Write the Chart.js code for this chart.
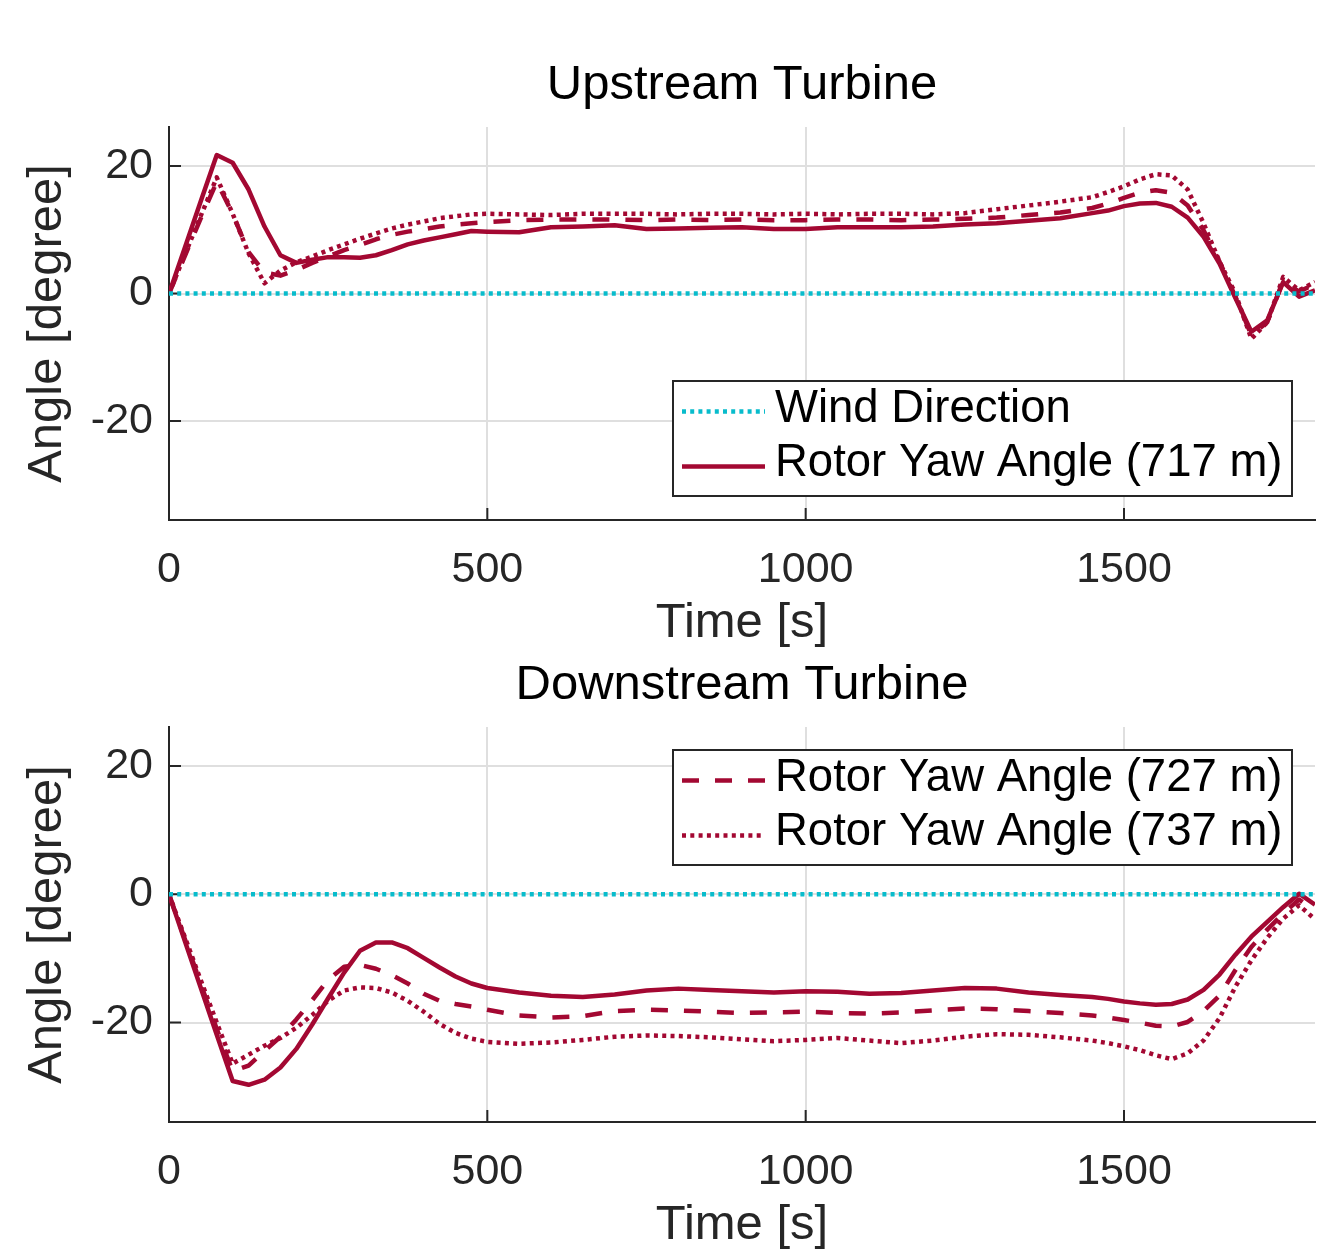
<!DOCTYPE html>
<html><head><meta charset="utf-8">
<script src="https://cdn.jsdelivr.net/npm/chart.js@4.4.1/dist/chart.umd.min.js"></script>
<style>
html,body{margin:0;padding:0;background:#fff;overflow:hidden;width:1318px;height:1249px;}
#c1{position:absolute;left:0;top:0;}
#c2{position:absolute;left:0;top:655px;}
</style></head><body>
<canvas id="c1" width="1318" height="655"></canvas>
<canvas id="c2" width="1318" height="594"></canvas>
<script>
// ---------------- data ----------------
const time = [0,25,50,75,100,125,150,175,200,225,250,275,300,325,350,375,400,425,450,475,500,
  550,600,650,700,750,800,850,900,950,1000,1050,1100,1150,1200,1250,1300,1350,1400,1450,
  1475,1500,1525,1550,1575,1600,1625,1650,1675,1700,1725,1750,1775,1800];

const windTime = [0, 1800];
const windDirection = [0, 0];

const upYaw717 = [0,7.2,14.5,21.7,20.5,16.3,10.5,6.0,4.8,5.3,5.7,5.7,5.6,6.0,6.8,7.7,8.3,8.8,9.3,9.8,9.7,
  9.6,10.4,10.5,10.7,10.1,10.2,10.3,10.4,10.1,10.1,10.4,10.4,10.4,10.5,10.8,11.0,11.4,11.8,12.6,
  13.0,13.7,14.1,14.2,13.6,11.9,8.9,4.7,-0.7,-6.0,-4.2,1.8,-0.5,0.5];
const upYaw727 = [0,5.9,11.8,17.5,12.5,6.5,3.3,2.8,3.7,4.8,5.8,6.8,7.6,8.5,9.2,9.7,10.1,10.5,10.8,11.0,11.2,
  11.5,11.6,11.6,11.6,11.5,11.6,11.5,11.6,11.5,11.5,11.6,11.6,11.5,11.6,11.7,11.9,12.3,12.7,13.4,
  14.1,15.0,15.8,16.2,15.8,13.8,9.9,5.0,-0.5,-6.5,-4.5,2.0,0.3,1.5];
const upYaw737 = [0,6.1,12.2,18.2,12.5,6.3,1.6,3.6,4.9,5.8,6.8,7.7,8.6,9.4,10.2,10.8,11.3,11.8,12.1,12.4,12.5,
  12.4,12.3,12.5,12.5,12.5,12.4,12.5,12.5,12.4,12.5,12.4,12.5,12.5,12.4,12.6,13.2,13.8,14.4,15.1,
  15.9,16.8,17.9,18.7,18.5,16.3,11.0,5.0,0.0,-7.1,-4.5,2.6,0.5,1.8];

const downYaw717 = [0,-7.3,-14.6,-21.9,-29.1,-29.7,-28.9,-27.0,-24.1,-20.3,-16.2,-12.2,-8.8,-7.5,-7.5,-8.4,-9.9,-11.4,-12.8,-13.9,-14.6,
  -15.3,-15.8,-16.0,-15.6,-15.0,-14.7,-14.9,-15.1,-15.3,-15.1,-15.2,-15.5,-15.4,-15.0,-14.6,-14.7,-15.3,-15.7,-16.0,
  -16.3,-16.7,-17.0,-17.2,-17.1,-16.4,-14.9,-12.5,-9.4,-6.6,-4.3,-2.0,0.1,-1.6];
const downYaw727 = [0,-7.0,-14.0,-21.0,-27.6,-26.7,-24.4,-22.2,-19.5,-16.5,-13.3,-11.3,-11.0,-11.6,-12.6,-13.9,-15.5,-16.6,-17.1,-17.5,-18.0,
  -18.9,-19.2,-19.0,-18.2,-18.0,-18.1,-18.3,-18.5,-18.4,-18.3,-18.5,-18.6,-18.4,-18.1,-17.8,-17.9,-18.2,-18.5,-18.9,
  -19.2,-19.6,-20.0,-20.5,-20.6,-19.9,-18.2,-15.8,-11.8,-8.2,-5.5,-3.0,-0.8,-2.6];
const downYaw737 = [0,-6.7,-13.4,-20.0,-26.4,-25.0,-23.6,-22.4,-20.8,-18.8,-16.6,-15.0,-14.5,-14.6,-15.3,-16.6,-18.3,-20.2,-21.6,-22.5,-23.0,
  -23.3,-23.1,-22.7,-22.2,-22.0,-22.1,-22.3,-22.6,-22.9,-22.7,-22.4,-22.8,-23.2,-22.8,-22.2,-21.8,-21.9,-22.3,-22.8,
  -23.2,-23.7,-24.3,-25.1,-25.7,-24.8,-22.8,-19.3,-14.4,-10.3,-6.8,-3.8,-1.7,-3.9];

const seriesLabels = ['Wind Direction','Rotor Yaw Angle (717 m)','Rotor Yaw Angle (727 m)','Rotor Yaw Angle (737 m)'];
const xTicks = [0, 500, 1000, 1500];
const yTicks = [-20, 0, 20];

// ---------------- style ----------------
const FONT = '"Liberation Sans", Arial, Helvetica, sans-serif';
const RED = 'rgb(163,8,50)';
const CYAN = 'rgb(8,188,204)';
const AXIS = '#262626';
const GRID = 'rgb(223,223,223)';

function pts(xs, ys){ return xs.map((x,i)=>({x:x, y:ys[i]})); }

function makeDatasets(a717, a727, a737){
  const common = {pointRadius:0, fill:false, tension:0, borderCapStyle:'butt', borderJoinStyle:'round'};
  return [
    Object.assign({label:seriesLabels[0], data:pts(windTime, windDirection), borderColor:CYAN, borderWidth:4.5, borderDash:[4,4.2], order:0}, common),
    Object.assign({label:seriesLabels[1], data:pts(time, a717), borderColor:RED, borderWidth:4.5, borderDash:[], order:1}, common),
    Object.assign({label:seriesLabels[2], data:pts(time, a727), borderColor:RED, borderWidth:4.5, borderDash:[17,16], order:2}, common),
    Object.assign({label:seriesLabels[3], data:pts(time, a737), borderColor:RED, borderWidth:4.5, borderDash:[4,4.3], order:3}, common)
  ];
}

const inTicks = {
  id:'inTicks',
  beforeDatasetsDraw(chart){
    const {ctx, chartArea:ca, scales:{x, y}} = chart;
    ctx.save();
    ctx.strokeStyle = AXIS; ctx.lineWidth = 2; ctx.beginPath();
    xTicks.forEach(v=>{ const p = x.getPixelForValue(v); ctx.moveTo(p, ca.bottom); ctx.lineTo(p, ca.bottom-12); });
    yTicks.forEach(v=>{ const p = y.getPixelForValue(v); ctx.moveTo(ca.left, p); ctx.lineTo(ca.left+12, p); });
    ctx.stroke(); ctx.restore();
  }
};

const boxLegend = {
  id:'boxLegend',
  afterDatasetsDraw(chart, args, o){
    if(!o || !o.items) return;
    const ctx = chart.ctx, ca = chart.chartArea;
    const left = ca.right - o.right - o.width;
    const top = o.anchor === 'bottom' ? ca.bottom - o.offsetY - o.height : ca.top + o.offsetY;
    ctx.save();
    ctx.fillStyle = '#fff'; ctx.fillRect(left, top, o.width, o.height);
    ctx.strokeStyle = AXIS; ctx.lineWidth = 2; ctx.setLineDash([]);
    ctx.strokeRect(left, top, o.width, o.height);
    o.items.forEach((di, k)=>{
      const ds = chart.data.datasets[di];
      const ly = top + o.lineY[k];
      ctx.beginPath(); ctx.setLineDash(ds.borderDash || []);
      ctx.lineWidth = ds.borderWidth; ctx.strokeStyle = ds.borderColor; ctx.lineCap = 'butt';
      ctx.moveTo(left + 9, ly); ctx.lineTo(left + 92, ly); ctx.stroke();
      ctx.setLineDash([]);
      ctx.fillStyle = '#000'; ctx.font = '45.5px ' + FONT;
      ctx.textBaseline = 'middle'; ctx.textAlign = 'left';
      ctx.fillText(ds.label, left + 102, top + o.textY[k]);
    });
    ctx.restore();
  }
};

function fixedTicks(values){
  return function(scale){ scale.ticks = values.map(v=>({value:v})); };
}

function makeOptions(titleText, titlePad, xAxisHeight, xTitlePadBottom, legendOpts){
  return {
    responsive:false, animation:false, events:[],
    layout:{padding:{left:0, right:3, top:0, bottom:0}},
    plugins:{
      legend:{display:false}, tooltip:{enabled:false},
      title:{display:true, text:titleText, fullSize:false, color:'#000',
        font:{family:FONT, size:49, weight:'normal', lineHeight:1.2}, padding:titlePad},
      boxLegend: legendOpts
    },
    scales:{
      x:{type:'linear', min:0, max:1800,
        afterBuildTicks: fixedTicks(xTicks),
        afterFit(s){ s.height = xAxisHeight; },
        ticks:{padding:24, color:AXIS, maxRotation:0, minRotation:0, autoSkip:false,
          font:{family:FONT, size:43, lineHeight:1.2}, callback:(v)=>String(v)},
        grid:{color:GRID, lineWidth:2, drawTicks:false},
        border:{display:true, color:AXIS, width:2},
        title:{display:true, text:'Time [s]', color:AXIS, font:{family:FONT, size:49, lineHeight:1.2},
          padding:{top:0, bottom:xTitlePadBottom}}
      },
      y:{type:'linear', min:-35.5, max:26.1,
        afterBuildTicks: fixedTicks(yTicks),
        afterFit(s){ s.width = 169; },
        ticks:{padding:16, color:AXIS, autoSkip:false,
          font:{family:FONT, size:43, lineHeight:1.2}, callback:(v)=>String(v)},
        grid:{color:GRID, lineWidth:2, drawTicks:false},
        border:{display:true, color:AXIS, width:2},
        title:{display:true, text:'Angle [degree]', color:AXIS, font:{family:FONT, size:49, lineHeight:1.2},
          padding:{top:18, bottom:0}}
      }
    }
  };
}

new Chart(document.getElementById('c1'), {
  type:'line',
  data:{datasets: makeDatasets(upYaw717, upYaw727, upYaw737)},
  options: makeOptions('Upstream Turbine', {top:55.6, bottom:12.6}, 135, 2.6,
    {items:[0,1], anchor:'bottom', right:23, offsetY:24, width:619, height:115, lineY:[30.5,85.5], textY:[28.5,82.5]}),
  plugins:[inTicks, boxLegend]
});

new Chart(document.getElementById('c2'), {
  type:'line',
  data:{datasets: makeDatasets(downYaw717, downYaw727, downYaw737)},
  options: makeOptions('Downstream Turbine', {top:0.6, bottom:12.6}, 127, -5.4,
    {items:[2,3], anchor:'top', right:23, offsetY:23, width:619, height:115, lineY:[30.5,85.5], textY:[28.5,82.5]}),
  plugins:[inTicks, boxLegend]
});
</script>
</body></html>
